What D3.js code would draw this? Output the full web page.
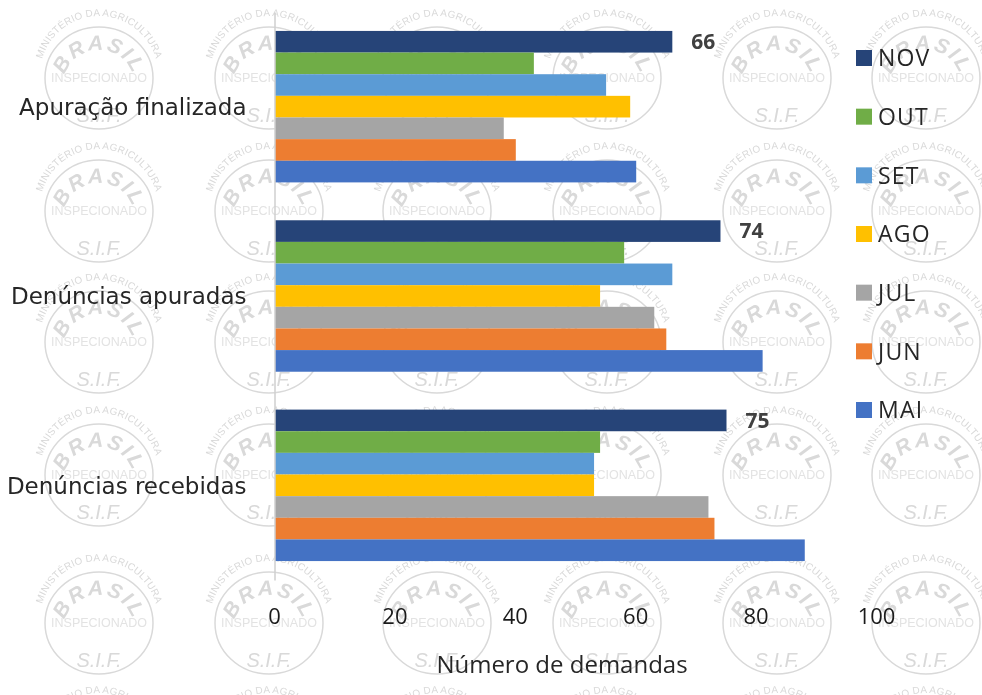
<!DOCTYPE html>
<html lang="pt">
<head>
<meta charset="utf-8">
<title>Número de demandas</title>
<script src="https://cdn.jsdelivr.net/npm/d3@7"></script>
<style>
  html, body { margin: 0; padding: 0; background: #fff; }
  svg { display: block; font-family: "Open Sans", sans-serif; }
</style>
</head>
<body>
<svg id="chart" width="982" height="695"></svg>
<script>
// Chart data
const categories = ["Apuração finalizada", "Denúncias apuradas", "Denúncias recebidas"];
const months = ["NOV", "OUT", "SET", "AGO", "JUL", "JUN", "MAI"];
const nov = [66, 74, 75];
const out = [43, 58, 54];
const set = [55, 66, 53];
const ago = [59, 54, 53];
const jul = [38, 63, 72];
const jun = [40, 65, 73];
const mai = [60, 81, 88];
const seriesValues = [nov, out, set, ago, jul, jun, mai];
const colors = ["#264478", "#70ad47", "#5b9bd5", "#ffc000", "#a5a5a5", "#ed7d31", "#4472c4"];
const xTicks = [0, 20, 40, 60, 80, 100];

// Watermark grid, the stamps are not evenly spaced in the original
const stampCols = [99, 269, 437, 607, 777, 926];
const stampRows = [78, 211, 342, 475, 623, 755];

const svg = d3.select("#chart");
const stampColor = "#d9d9d9";

const defs = svg.append("defs");
defs.append("filter").attr("id", "soft")
  .append("feGaussianBlur").attr("stdDeviation", 0.5);
defs.append("path").attr("id", "arcOuter").attr("d", "M -59,-3 A 59,59 0 1 1 59,-3");
defs.append("path").attr("id", "arcBrasil").attr("d", "M -34.3,-3 A 36,36 0 0 1 34.3,-3");

const stamp = defs.append("g").attr("id", "stamp").attr("fill", stampColor)
  .attr("font-family", "Liberation Sans");
stamp.append("ellipse")
  .attr("rx", 54).attr("ry", 51)
  .attr("fill", "none").attr("stroke", stampColor).attr("stroke-width", 1.5);
stamp.append("text").attr("font-size", 10).attr("letter-spacing", 0.2)
  .append("textPath").attr("href", "#arcOuter").attr("startOffset", "50%").attr("text-anchor", "middle")
  .text("MINISTÉRIO DA AGRICULTURA");
stamp.append("text").attr("font-size", 21).attr("font-style", "italic").attr("font-weight", "bold").attr("letter-spacing", 2)
  .append("textPath").attr("href", "#arcBrasil").attr("startOffset", "50%").attr("text-anchor", "middle")
  .text("BRASIL");
stamp.append("text").attr("font-size", 12.5).attr("text-anchor", "middle").attr("y", 4).attr("fill", "#e3e3e3")
  .text("INSPECIONADO");
stamp.append("text").attr("font-size", 20).attr("font-style", "italic").attr("text-anchor", "middle").attr("y", 44)
  .text("S.I.F.");

const stampCells = d3.cross(stampRows, stampCols);
svg.append("g").attr("filter", "url(#soft)")
  .selectAll("use")
  .data(stampCells)
  .join("use")
  .attr("href", "#stamp")
  .attr("transform", d => `translate(${d[1]},${d[0]})`);

// Scales
const x = d3.scaleLinear().domain([0, 100]).range([275, 877]);
const y = d3.scaleBand().domain(categories).range([12, 580]).paddingInner(0.2).paddingOuter(0.1);
const yInner = d3.scaleBand().domain(months).range([0, y.bandwidth()]);

// Bars
const groups = svg.append("g").selectAll("g")
  .data(categories)
  .join("g")
  .attr("transform", d => `translate(0,${y(d)})`);

groups.selectAll("rect")
  .data((d, i) => months.map((m, j) => ({ month: m, value: seriesValues[j][i], color: colors[j] })))
  .join("rect")
  .attr("x", x(0))
  .attr("y", d => yInner(d.month))
  .attr("width", d => x(d.value) - x(0))
  .attr("height", yInner.bandwidth())
  .attr("fill", d => d.color);

// Only NOV has data labels
groups.append("text")
  .attr("x", (d, i) => x(nov[i]) + 31)
  .attr("y", yInner("NOV") + yInner.bandwidth() / 2)
  .attr("dy", "0.35em")
  .attr("text-anchor", "middle")
  .attr("font-size", 21)
  .attr("font-weight", 700)
  .attr("fill", "#404040")
  .text((d, i) => nov[i]);

// Axes
const yAxis = svg.append("g")
  .attr("transform", `translate(${x(0) - 0.5},0)`)
  .call(d3.axisLeft(y).tickSize(0).tickPadding(28));
yAxis.select(".domain").attr("stroke", "#cfcfcf").attr("stroke-width", 1.5);
yAxis.selectAll("text")
  .attr("font-family", "DejaVu Sans")
  .attr("font-size", 23)
  .attr("dy", "0.36em")
  .attr("fill", "#262626");

const xAxis = svg.append("g")
  .attr("transform", "translate(0,580)")
  .call(d3.axisBottom(x).tickValues(xTicks).tickSize(0).tickPadding(28));
xAxis.select(".domain").remove();
xAxis.selectAll("text")
  .attr("dx", -1)
  .attr("font-family", "Open Sans")
  .attr("font-size", 22)
  .attr("fill", "#1a1a1a");

svg.append("text")
  .attr("x", 562)
  .attr("y", 673)
  .attr("text-anchor", "middle")
  .attr("font-size", 24)
  .attr("fill", "#262626")
  .text("Número de demandas");

// Legend
const legendY = d3.scalePoint().domain(months).range([58, 410]);
const legend = svg.append("g").selectAll("g")
  .data(months)
  .join("g")
  .attr("transform", d => `translate(856,${legendY(d)})`);
legend.append("rect")
  .attr("y", -8)
  .attr("width", 16)
  .attr("height", 16)
  .attr("fill", (d, i) => colors[i]);
legend.append("text")
  .attr("x", 22)
  .attr("dy", "0.36em")
  .attr("font-size", 23)
  .attr("letter-spacing", 1.2)
  .attr("fill", "#262626")
  .text(d => d);
</script>
</body>
</html>
